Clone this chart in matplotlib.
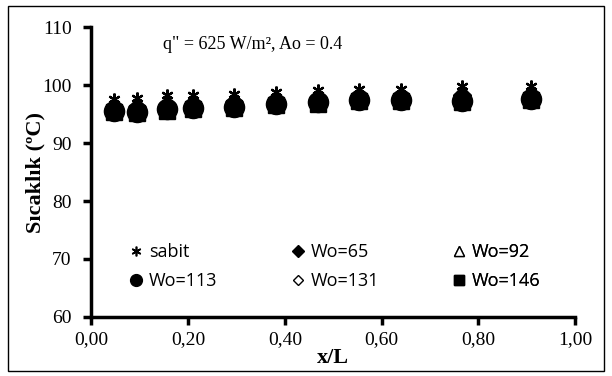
import matplotlib.pyplot as plt
from matplotlib.lines import Line2D
from matplotlib.patches import Rectangle
from matplotlib.ticker import FuncFormatter

# x/L positions along the channel
xL = [0.047, 0.095, 0.157, 0.210, 0.295, 0.381, 0.468, 0.553, 0.639, 0.765, 0.909]

# temperatures (C) for each case
sabit = [97.6, 97.7, 98.2, 98.3, 98.4, 98.8, 99.1, 99.4, 99.4, 99.9, 99.8]
wo65 = [96.3, 96.2, 96.6, 96.8, 97.0, 97.4, 97.7, 98.1, 98.1, 98.3, 98.3]
wo92 = [95.8, 95.7, 96.1, 96.3, 96.6, 97.0, 97.3, 97.6, 97.6, 97.6, 97.8]
wo113 = [95.5, 95.4, 95.8, 96.0, 96.3, 96.7, 97.0, 97.4, 97.4, 97.3, 97.6]
wo131 = [95.6, 95.5, 95.9, 96.1, 96.4, 96.8, 97.1, 97.5, 97.5, 97.4, 97.7]
wo146 = [95.3, 95.2, 95.6, 95.8, 96.1, 96.5, 96.8, 97.2, 97.2, 97.1, 97.4]

plt.rcParams['font.family'] = 'Liberation Serif'

fig = plt.figure(figsize=(6.12, 3.76), dpi=100)
ax = fig.add_axes([0.149, 0.157, 0.791, 0.771])

ax.plot(xL, sabit, linestyle='none', marker=(6, 2, 0), color='black', markersize=8.5, markeredgewidth=1.6)
ax.plot(xL, wo65, linestyle='none', marker='D', color='black', markersize=9)
ax.plot(xL, wo92, linestyle='none', marker='^', markerfacecolor='white', markeredgecolor='black', markersize=10)
ax.plot(xL, wo131, linestyle='none', marker='D', markerfacecolor='white', markeredgecolor='black', markersize=9)
ax.plot(xL, wo146, linestyle='none', marker='s', color='black', markersize=11)
ax.plot(xL, wo113, linestyle='none', marker='o', color='black', markersize=14.5)

ax.set_xlim(0, 1.0)
ax.set_ylim(60, 110)
ax.set_xticks([0, 0.2, 0.4, 0.6, 0.8, 1.0])
ax.set_yticks([60, 70, 80, 90, 100, 110])
ax.xaxis.set_major_formatter(FuncFormatter(lambda v, p: f"{v:.2f}".replace('.', ',')))
ax.tick_params(direction='out', length=6, width=2.5, labelsize=14)
ax.tick_params(axis='y', pad=8)
ax.tick_params(axis='x', pad=4)

for s in ['top', 'right']:
    ax.spines[s].set_visible(False)
for s in ['left', 'bottom']:
    ax.spines[s].set_linewidth(2.5)

ax.set_xlabel('x/L', fontsize=16, fontweight='bold', labelpad=0)
ax.set_ylabel('Sıcaklık (ºC)', fontsize=16, fontweight='bold', labelpad=-2)

ax.text(0.148, 0.94, 'q" = 625 W/m², Ao = 0.4', transform=ax.transAxes, fontsize=13,
        va='center', ha='left')

# legend, drawn as three columns
def mk(marker, ms, fill='black', mew=1.0):
    return Line2D([], [], linestyle='none', marker=marker, markersize=ms,
                  markerfacecolor=fill, markeredgecolor='black', markeredgewidth=mew)

columns = [
    ([mk((6, 2, 0), 7, mew=1.2), mk('o', 8.5)], ['sabit', 'Wo=113'], 0.0818),
    ([mk('D', 6), mk('D', 5, fill='white')], ['Wo=65', 'Wo=131'], 0.4165),
    ([mk('^', 7, fill='white'), mk('s', 6.5)], ['Wo=92', 'Wo=146'], 0.749),
]
for hs, ls, xa in columns:
    leg = ax.legend(hs, ls, loc='center left', bbox_to_anchor=(xa, 0.174),
                    frameon=False, handlelength=0.6, handletextpad=0.4,
                    borderpad=0, borderaxespad=0, labelspacing=0.62,
                    prop={'family': 'Open Sans', 'size': 13})
    ax.add_artist(leg)

fig.patches.append(Rectangle((0.013, 0.013), 0.974, 0.972, transform=fig.transFigure,
                             fill=False, edgecolor='black', linewidth=1))

fig.savefig('out.png', dpi=100)
